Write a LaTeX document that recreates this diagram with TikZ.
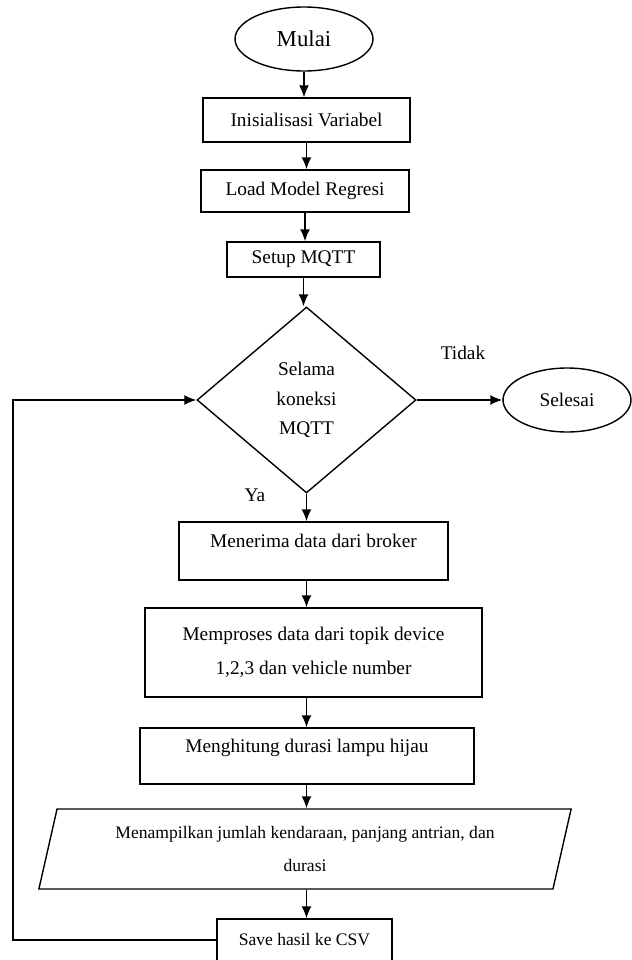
\documentclass[tikz,border=0pt]{standalone}
\usepackage{fontspec}
\setmainfont{Liberation Serif}
\usetikzlibrary{shapes.geometric,arrows.meta}
\tikzstyle{e}=[line width=0.9pt,arrows={-Latex[length=2.4mm,width=2mm]}]
\tikzstyle{proc}=[rectangle,draw=black,line width=0.8pt,inner sep=2pt,font=\fontsize{11}{13.6}\selectfont]
\tikzstyle{term}=[ellipse,draw=black,line width=0.8pt,inner sep=0pt,font=\fontsize{11}{13.6}\selectfont]
\tikzstyle{decide}=[diamond,draw=black,line width=0.8pt,inner sep=0pt,align=center,font=\fontsize{11}{13.6}\selectfont]
\tikzstyle{io}=[trapezium,trapezium left angle=75,trapezium right angle=105,trapezium stretches=true,draw=black,line width=0.8pt,inner sep=2pt,align=center,font=\fontsize{10}{12}\selectfont]
\tikzstyle{raised}=[text depth=0.42cm]
\tikzstyle{lbl}=[inner sep=1pt,font=\fontsize{11}{13.6}\selectfont]

\begin{document}
\begin{tikzpicture}[x=0.02cm,y=-0.02cm]
\useasboundingbox (0,0) rectangle (632,960);

% Nodes
\node[term,minimum width=2.76cm,minimum height=1.28cm,font=\fontsize{13}{15}\selectfont] (mulai) at (304,39) {Mulai};
\node[proc,minimum width=4.14cm,minimum height=0.88cm] (init)       at (306.5,120) {Inisialisasi Variabel};
\node[proc,minimum width=4.16cm,minimum height=0.84cm] (load)       at (305,191)   {Load Model Regresi};
\node[proc,minimum width=3.06cm,minimum height=0.70cm] (setup)      at (303.5,259.5) {Setup MQTT};
\node[decide,minimum width=4.38cm,minimum height=3.72cm] (cond)     at (306.5,400) {Selama\\[3pt]koneksi\\[3pt]MQTT};
\node[term,minimum width=2.56cm,minimum height=1.28cm] (selesai)    at (567,400)   {Selesai};
\node[proc,raised,minimum width=5.38cm,minimum height=1.16cm] (terima) at (313.5,551) {Menerima data dari broker};
\node[proc,align=center,minimum width=6.74cm,minimum height=1.78cm] (proses) at (313.5,652.5) {Memproses data dari topik device\\[6pt]1,2,3 dan vehicle number};
\node[proc,raised,minimum width=6.68cm,minimum height=1.12cm] (hitung) at (307,756) {Menghitung durasi lampu hijau};
\node[io,minimum width=10.68cm,minimum height=1.6cm] (tampil)      at (305,849)   {Menampilkan jumlah kendaraan, panjang antrian, dan\\[7pt]durasi};
\node[proc,font=\fontsize{10}{12}\selectfont,minimum width=3.5cm,minimum height=0.84cm] (save) at (304.5,940) {Save hasil ke CSV};
\node[lbl] (tidak) at (463,353) {Tidak};
\node[lbl] (ya)    at (255,495) {Ya};
\coordinate (back) at (13,940);

% Edges
\draw (mulai)  edge[e] (mulai |- init.north)
      (init)   edge[e] (init |- load.north)
      (load)   edge[e] (load |- setup.north)
      (setup)  edge[e] (setup |- cond.north)
      (cond)   edge[e] (selesai)
      (cond)   edge[e] (cond |- terima.north)
      (cond |- terima.south) edge[e] (cond |- proses.north)
      (cond |- proses.south) edge[e] (cond |- hitung.north)
      (cond |- hitung.south) edge[e] (cond |- tampil.north)
      (cond |- tampil.south) edge[e] (cond |- save.north);
\draw[e] (save.west) -- (back) |- (cond.west);

\end{tikzpicture}
\end{document}
